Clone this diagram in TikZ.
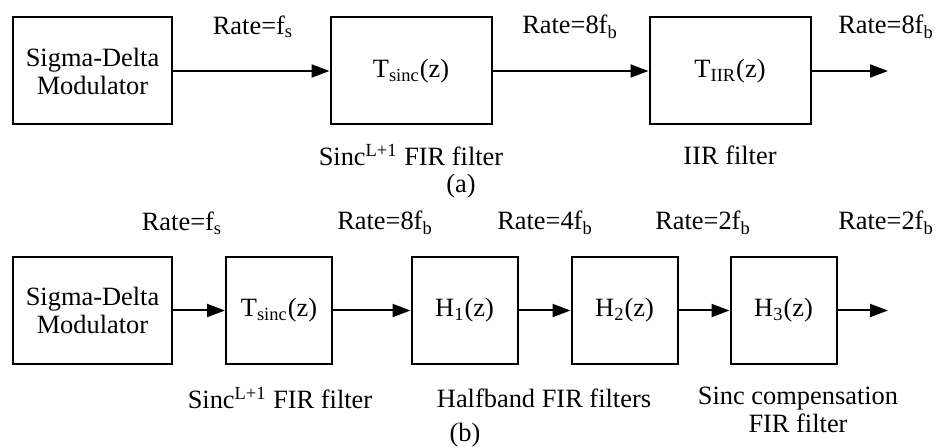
\documentclass[tikz,border=0pt]{standalone}
\usepackage{fontspec}
\setmainfont{Liberation Serif}
\usetikzlibrary{arrows.meta}

\tikzset{
	block/.style={draw, line width=1pt, minimum height=53.5pt, inner sep=0pt, align=center},
	sdbox/.style={block, minimum width=79.5pt},
	widebox/.style={block, minimum width=80.5pt},
	smallbox/.style={block, minimum width=53pt},
	flow/.style={line width=1pt, -{Triangle[length=9pt,width=6.5pt]}},
	rate/.style={inner sep=0pt},
	caption/.style={inner sep=0pt, align=center}
}

\begin{document}
\begin{tikzpicture}[x=0.5pt, y=-0.5pt, font=\fontsize{13.2}{14}\selectfont]
		\useasboundingbox (0,0) rectangle (941,448);

		% (a)
		\node[sdbox] (sdA) at (92.5,71) {Sigma-Delta\\Modulator};
		\node[widebox] (sincA) at (411,71) {T\textsubscript{sinc}(z)};
		\node[widebox] (iir) at (730,71) {T\textsubscript{IIR}(z)};
		\coordinate (outA) at (888,71);

		\draw[flow] (sdA) -- (sincA);
		\draw[flow] (sincA) -- (iir);
		\draw[flow] (iir) -- (outA);

		\node[rate] (rA1) at (253,27) {Rate=f\textsubscript{s}};
		\node[rate] (rA2) at (570,27) {Rate=8f\textsubscript{b}};
		\node[rate] (rA3) at (886,27) {Rate=8f\textsubscript{b}};

		\node[caption] (capA1) at (411,155) {Sinc\textsuperscript{L+1} FIR filter};
		\node[caption] (capA2) at (730,155) {IIR filter};
		\node[caption] (labA) at (461,186) {(a)};

		% (b)
		\node[sdbox] (sdB) at (92.5,310.5) {Sigma-Delta\\Modulator};
		\node[smallbox] (sincB) at (279,310.5) {T\textsubscript{sinc}(z)};
		\node[smallbox] (hone) at (464.5,310.5) {H\textsubscript{1}(z)};
		\node[smallbox] (htwo) at (624.5,310.5) {H\textsubscript{2}(z)};
		\node[smallbox] (hthree) at (783.5,310.5) {H\textsubscript{3}(z)};
		\coordinate (outB) at (888,310.5);

		\draw[flow] (sdB) -- (sincB);
		\draw[flow] (sincB) -- (hone);
		\draw[flow] (hone) -- (htwo);
		\draw[flow] (htwo) -- (hthree);
		\draw[flow] (hthree) -- (outB);

		\node[rate] (rB1) at (182,223) {Rate=f\textsubscript{s}};
		\node[rate] (rB2) at (385,223) {Rate=8f\textsubscript{b}};
		\node[rate] (rB3) at (545,223) {Rate=4f\textsubscript{b}};
		\node[rate] (rB4) at (703,223) {Rate=2f\textsubscript{b}};
		\node[rate] (rB5) at (886,223) {Rate=2f\textsubscript{b}};

		\node[caption] (capB1) at (280,398) {Sinc\textsuperscript{L+1} FIR filter};
		\node[caption] (capB2) at (544,398) {Halfband FIR filters};
		\node[caption] (capB3) at (798,410) {Sinc compensation\\FIR filter};
		\node[caption] (labB) at (465,435) {(b)};
	\end{tikzpicture}
\end{document}
